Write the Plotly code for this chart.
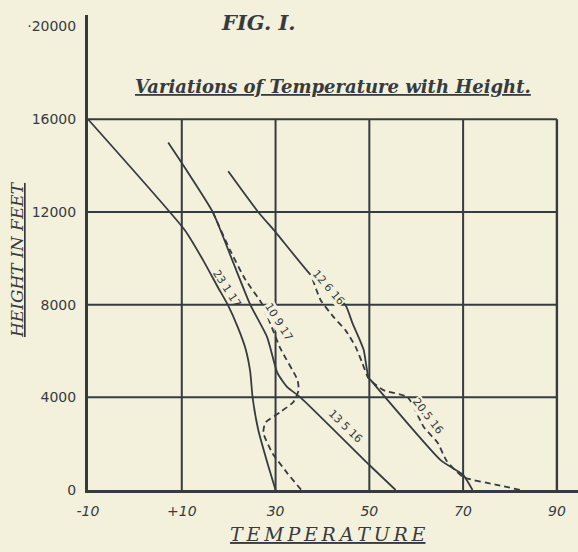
import plotly.graph_objects as go

# ---- data (temperature in deg F, height in feet) ----
temp_ticks = [-10, 10, 30, 50, 70, 90]
temp_tick_labels = ["-10", "+10", "30", "50", "70", "90"]
height_ticks = [0, 4000, 8000, 12000, 16000, 20000]
height_tick_labels = ["0", "4000", "8000", "12000", "16000", "·20000"]

grid_temps = [10, 30, 50, 70, 90]
grid_heights = [4000, 8000, 12000, 16000]

t_23_1_17 = [-10, 10.7, 14.6, 17.7, 19.8, 22.0, 23.6, 24.6, 25.1, 26.3, 28.5, 30.0]
h_23_1_17 = [16000, 11200, 9900, 8750, 8000, 7000, 6100, 5100, 4000, 2600, 1000, 0]

t_13_5_16 = [7.1, 10.7, 16.6, 21.0, 24.6, 28.2, 30.4, 32.5, 35.3, 50.0, 55.6]
h_13_5_16 = [15000, 13900, 12000, 9800, 8000, 6600, 5050, 4440, 4000, 1080, 0]

t_10_9_17 = [16.6, 20.3, 23.5, 27.2, 31.0, 34.7, 34.9, 33.8, 31.0, 27.8, 27.4, 29.3, 32.5, 35.5]
h_10_9_17 = [12000, 10350, 9100, 8000, 6120, 4740, 4300, 3800, 3360, 2900, 2460, 1600, 730, 0]

t_12_6_16 = [19.9, 26.3, 30.0, 37.9, 44.9, 46.4, 47.7, 48.8, 49.8, 50.3, 65.2, 70.0, 72.0]
h_12_6_16 = [13760, 12000, 11130, 9190, 7980, 7200, 6600, 6040, 4870, 4740, 1290, 650, 0]

t_20_5_16 = [37.9, 39.6, 42.4, 44.9, 47.1, 48.5, 49.8, 53.0, 58.2, 61.6, 64.6, 66.5, 70.0, 77.4, 82.3]
h_20_5_16 = [9100, 8200, 7460, 6900, 6170, 5480, 4830, 4310, 4000, 2720, 2030, 1250, 560, 215, 0]

curve_names = ["23 1 17", "10 9 17", "12 6 16", "13 5 16", "20.5 16"]

# ---- style ----
BG = "#F3F1DC"
INK = "#363b40"

W, H = 578, 552
ML, MR, MT, MB = 88, 0, 15, 62

fig = go.Figure()

series = [
    (t_23_1_17, h_23_1_17, "solid", "23.1.17"),
    (t_13_5_16, h_13_5_16, "solid", "13.5.16"),
    (t_12_6_16, h_12_6_16, "solid", "12.6.16"),
    (t_10_9_17, h_10_9_17, "6px,4px", "10.9.17"),
    (t_20_5_16, h_20_5_16, "6px,4px", "20.5.16"),
]
for tx, hy, dash, name in series:
    fig.add_trace(go.Scatter(
        x=tx, y=hy, mode="lines", name=name,
        line=dict(color=INK, width=1.8, dash=dash, shape="spline", smoothing=0.5),
        showlegend=False, hoverinfo="skip",
    ))

# grid lines (limited to the 16000 ft frame)
for gy in grid_heights:
    fig.add_shape(type="line", xref="x", yref="y", x0=-10, x1=90, y0=gy, y1=gy,
                  line=dict(color=INK, width=2), layer="below")
for gx in grid_temps:
    fig.add_shape(type="line", xref="x", yref="y", x0=gx, x1=gx, y0=0, y1=16000,
                  line=dict(color=INK, width=2.4 if gx == 90 else 2), layer="below")

# curve labels
label_pos = [
    (19.6, 8700, 57, False),
    (30.8, 7250, 58, True),
    (41.3, 8760, 49, True),
    (44.9, 2720, 44, False),
    (62.6, 3190, 52, True),
]
for name, (lx, ly, ang, bg) in zip(curve_names, label_pos):
    fig.add_annotation(x=lx, y=ly, xref="x", yref="y", text=name, showarrow=False,
                       textangle=ang, font=dict(family="DejaVu Sans", size=11, color=INK),
                       bgcolor=BG if bg else "rgba(0,0,0,0)", borderpad=0)

def px2paper(px, py):
    return (px - ML) / (W - ML - MR), (H - MB - py) / (H - MT - MB)

def add_text(px, py, text, size, angle=0):
    x, y = px2paper(px, py)
    fig.add_annotation(x=x, y=y, xref="paper", yref="paper", text=text, showarrow=False,
                       xanchor="center", yanchor="middle", textangle=angle,
                       font=dict(family="DejaVu Serif", size=size, color=INK))

add_text(258, 22, "<b><i>FIG. I.</i></b>", 21)
add_text(333, 86, "<b><i><u>Variations of Temperature with Height.</u></i></b>", 18)
add_text(328, 534, "<i><u>" + "\u2009".join("TEMPERATURE") + "</u></i>", 19)
add_text(17, 260, "<i><u>HEIGHT IN FEET</u></i>", 17, angle=-90)

fig.update_layout(
    width=W, height=H,
    margin=dict(l=ML, r=MR, t=MT, b=MB, pad=0),
    paper_bgcolor=BG, plot_bgcolor=BG,
    xaxis=dict(range=[-10, 94.5], tickvals=temp_ticks, ticktext=temp_tick_labels,
               showgrid=False, zeroline=False, showline=True, linecolor=INK, linewidth=3,
               ticks="", ticklabelstandoff=6,
               tickfont=dict(family="DejaVu Sans", size=14, color=INK, style="italic")),
    yaxis=dict(range=[0, 20500], tickvals=height_ticks, ticktext=height_tick_labels,
               showgrid=False, zeroline=False, showline=True, linecolor=INK, linewidth=3,
               ticks="", ticklabelstandoff=6,
               tickfont=dict(family="DejaVu Sans", size=14, color=INK)),
)

fig.write_html("out.html", config={"displayModeBar": False},
               post_script="document.body.style.margin='0';document.body.style.background='%s';" % BG)
